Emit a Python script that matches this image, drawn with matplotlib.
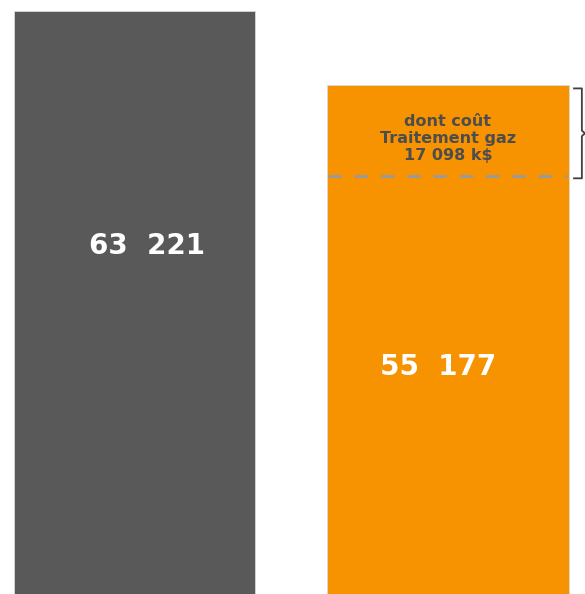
import matplotlib.pyplot as plt

# values shown on the chart (k$)
categories = ["Avant", "Après"]
totals = [63221, 55177]
labels = ["63  221", "55  177"]
gas_cost_label = "dont coût\nTraitement gaz\n17 098 k$"

colors = ["#595959", "#F79200"]

# schematic band for the gas treatment part (not to scale in the original)
gas_band = 9850

fig = plt.figure(figsize=(5.85, 5.94), dpi=100)
ax = fig.add_axes([0, 0, 1, 1])

x = [0, 1]
ax.bar(x, totals, width=0.769, color=colors, edgecolor="#d9d9d9", linewidth=0.6)

# value labels inside the bars (slightly off-centre as in the original)
ax.text(x[0] + 0.04, totals[0] * 0.597, labels[0], color="white", fontsize=20,
        fontweight="bold", ha="center", va="center")
ax.text(x[1] - 0.03, totals[1] * 0.446, labels[1], color="white", fontsize=20,
        fontweight="bold", ha="center", va="center")

# dashed separator and annotation for gas treatment cost
dash_y = totals[1] - gas_band
ax.plot([x[1] - 0.383, x[1] + 0.38], [dash_y, dash_y], color="#9a9a9a",
        linewidth=2.2, dashes=(4.3, 4.3))
ax.text(x[1], totals[1] - gas_band * 0.585, gas_cost_label, color="#4d4d4d",
        fontsize=11.5, fontweight="bold", ha="center", va="center", linespacing=1.15)

# brace on the right side
top = totals[1] - 350
bot = dash_y - 250
mid = (top + bot) / 2
bx0, bx1, bx2 = 1.402, 1.427, 1.437
ax.plot([bx0, bx1, bx1, bx2], [top, top, mid + 300, mid], color="#404040", linewidth=1.3)
ax.plot([bx0, bx1, bx1, bx2], [bot, bot, mid - 300, mid], color="#404040", linewidth=1.3)

ax.set_xlim(-0.429, 1.437)
ax.set_ylim(0, 64414)
ax.axis("off")

fig.savefig("out.png", dpi=100)
